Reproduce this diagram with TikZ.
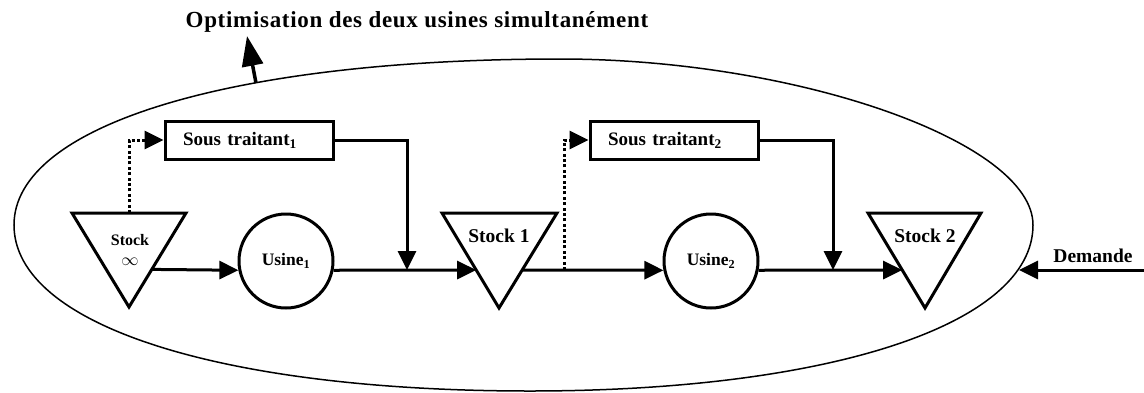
\documentclass[tikz,border=0pt]{standalone}
\usepackage{fontspec}
\setmainfont{Liberation Serif}
\usetikzlibrary{arrows.meta,calc}

\begin{document}
\begin{tikzpicture}[x=1pt, y=-1pt,
  stockline/.style={draw, line width=3pt, line join=miter},
  plant/.style={draw, circle, line width=3pt, minimum size=94pt, inner sep=0pt,
    font=\fontsize{17.5}{20}\selectfont\bfseries},
  subbox/.style={draw, line width=3pt, minimum height=38pt, text width=132pt,
    inner xsep=18pt, inner ysep=0pt, align=left,
    font=\fontsize{19}{22}\selectfont\bfseries},
  lbl/.style={inner sep=0pt, font=\fontsize{19.5}{23}\selectfont\bfseries},
  flow/.style={-{Triangle[length=19pt,width=18pt]}, line width=3pt},
  dots/.style={flow, dash pattern=on 3pt off 2.4pt},
  up/.style={-{Triangle[length=30pt,width=21pt]}, line width=3.5pt}
]
\useasboundingbox (0,0) rectangle (1144,392);
% the frame round both plants
\coordinate (eleft) at (14,225);
\coordinate (etopmid) at (560,59);
\coordinate (erightmid) at (1033,225);
\coordinate (ebot) at (530,391);
\draw[line width=1.5pt] (eleft)
  .. controls (14,125) and (232,59) .. (etopmid)
  .. controls (797,59) and (1033,142) .. (erightmid)
  .. controls (1033,325) and (828,391) .. (ebot)
  .. controls (220,391) and (14,325) .. (eleft) -- cycle;
\coordinate (etop) at (256,83);
\coordinate (eright) at (1019,270);
% title
\node[lbl, anchor=base, font=\fontsize{23}{27}\selectfont\bfseries\addfontfeatures{LetterSpace=3}]
  (title) at (417,27) {Optimisation des deux usines simultanément};
\coordinate (ttip) at (247,36);
% stocks
\coordinate (s0a) at (72,213);  \coordinate (s0b) at (186,213);  \coordinate (s0c) at (129,307);
\coordinate (s1a) at (442,213); \coordinate (s1b) at (557,213);  \coordinate (s1c) at (499,308);
\coordinate (s2a) at (868,213); \coordinate (s2b) at (981,213);  \coordinate (s2c) at (925,308);
\draw[stockline] (s0a) -- (s0b) -- (s0c) -- cycle;
\draw[stockline] (s1a) -- (s1b) -- (s1c) -- cycle;
\draw[stockline] (s2a) -- (s2b) -- (s2c) -- cycle;
\node[inner sep=0pt, align=center, font=\fontsize{16}{20}\selectfont\bfseries] (stk0) at (130,250)
  {Stock\\$\infty$};
\node[lbl, anchor=base] (stk1) at (499,242) {Stock 1};
\node[lbl, anchor=base] (stk2) at (925,242) {Stock 2};
\coordinate (s0top) at ($(s0a)!0.5!(s0b)$);
\coordinate (s0out) at ($(s0b)!0.6!(s0c)$);
\coordinate (s1in) at ($(s1a)!0.6!(s1c)$);
\coordinate (s1out) at ($(s1b)!0.6!(s1c)$);
\coordinate (s2in) at ($(s2a)!0.6!(s2c)$);
% plants
\node[plant] (u1) at (286,261) {Usine\textsubscript{1}};
\node[plant] (u2) at (711,261) {Usine\textsubscript{2}};
% subcontractors
\node[subbox] (st1) at (249,140) {Sous traitant\textsubscript{1}};
\node[subbox] (st2) at (674,140) {Sous traitant\textsubscript{2}};
\coordinate (j1) at (407,270);
\coordinate (j2) at (833,270);
\coordinate (d2) at (564,270);
% demand
\node[lbl, anchor=base] (dem) at (1093,262) {Demande};
\coordinate (din) at (1144,270);
% flows
\draw[flow] (s0out) -- (u1.191);
\draw[flow] (u1.349) -- (s1in);
\draw[flow] (s1out) -- (u2.191);
\draw[flow] (u2.349) -- (s2in);
\draw[flow] (st1.east) -| (j1);
\draw[flow] (st2.east) -| (j2);
\draw[dots] (s0top) |- (st1.west);
\draw[dots] (d2) |- (st2.west);
\draw[flow] (din) -- (eright);
\draw[up] (etop) -- (ttip);
\end{tikzpicture}
\end{document}
